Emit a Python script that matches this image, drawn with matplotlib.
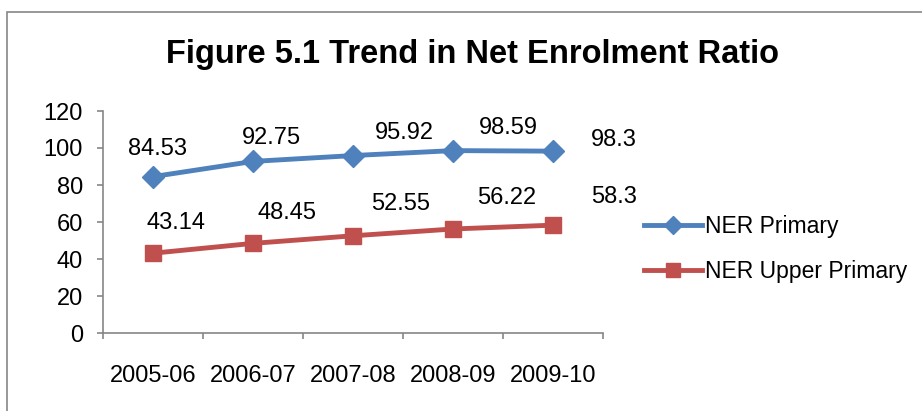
"""Figure 5.1 - trend in net enrolment ratio, Excel-style line chart."""

import matplotlib
matplotlib.use("Agg")
import matplotlib.pyplot as plt
from matplotlib.patches import Rectangle

# data
years = ["2005-06", "2006-07", "2007-08", "2008-09", "2009-10"]
ner_primary = [84.53, 92.75, 95.92, 98.59, 98.3]
ner_upper_primary = [43.14, 48.45, 52.55, 56.22, 58.3]
label_primary = ["84.53", "92.75", "95.92", "98.59", "98.3"]
label_upper = ["43.14", "48.45", "52.55", "56.22", "58.3"]

BLUE = "#4F81BD"
RED = "#C0504D"
AXIS = "#868686"
FONT = ["Liberation Sans", "DejaVu Sans"]

# label offsets (pixels) the way they were dragged around in the original
off_primary = [(4, 28), (18, 23), (51, 23), (55, 23), (61, 11)]
off_upper = [(23, 30), (34, 30), (48, 32), (54, 31), (61, 28)]

plt.rcParams["font.family"] = FONT

fig = plt.figure(figsize=(9.22, 4.11), dpi=100)
ax = fig.add_axes([103 / 922, 1 - 333 / 411, 500 / 922, 222 / 411])

x = list(range(len(years)))
ax.plot(x, ner_primary, color=BLUE, lw=3.5, marker="D", ms=11,
        label="NER Primary", clip_on=False)
ax.plot(x, ner_upper_primary, color=RED, lw=3.5, marker="s", ms=12,
        label="NER Upper Primary", clip_on=False)

px = 72 / fig.dpi
for xi, v, t, (dx, dy) in zip(x, ner_primary, label_primary, off_primary):
    ax.annotate(t, (xi, v), xytext=(dx * px, dy * px), textcoords="offset points",
                ha="center", va="center", fontsize=17)
for xi, v, t, (dx, dy) in zip(x, ner_upper_primary, label_upper, off_upper):
    ax.annotate(t, (xi, v), xytext=(dx * px, dy * px), textcoords="offset points",
                ha="center", va="center", fontsize=17)

ax.set_xlim(-0.5, len(years) - 0.5)
ax.set_ylim(0, 120)
ax.set_yticks(range(0, 121, 20))

# category boundaries get the tick marks, centres get the labels
ax.set_xticks([i - 0.5 for i in range(len(years) + 1)])
ax.set_xticklabels([])
ax.set_xticks(x, minor=True)
ax.set_xticklabels(years, minor=True)
ax.tick_params(axis="x", which="major", length=4.5, width=1.2, color=AXIS, direction="out")
ax.tick_params(axis="x", which="minor", length=0, pad=23, labelsize=17)
ax.tick_params(axis="y", length=4.5, width=1.2, color=AXIS, pad=10, labelsize=17)

for s in ["top", "right"]:
    ax.spines[s].set_visible(False)
for s in ["left", "bottom"]:
    ax.spines[s].set_color(AXIS)
    ax.spines[s].set_linewidth(1.2)

fig.text(472 / 922, 1 - 55 / 411, "Figure 5.1 Trend in Net Enrolment Ratio",
         ha="center", va="center", fontsize=23.5, fontweight="bold")

fig.legend(loc="center left", bbox_to_anchor=(633 / 922, 1 - 249 / 411),
           frameon=False, fontsize=16.5, handlelength=2.5, handletextpad=0.15,
           labelspacing=0.95, borderpad=0, markerscale=0.85)

# chart area border (right and bottom run off the picture)
fig.patches.append(Rectangle((7 / 922, -0.1), 1.1, 1.1 - 12 / 411,
                             transform=fig.transFigure, fill=False,
                             edgecolor=AXIS, lw=1.2, clip_on=False))

fig.savefig("out.png", dpi=100)
